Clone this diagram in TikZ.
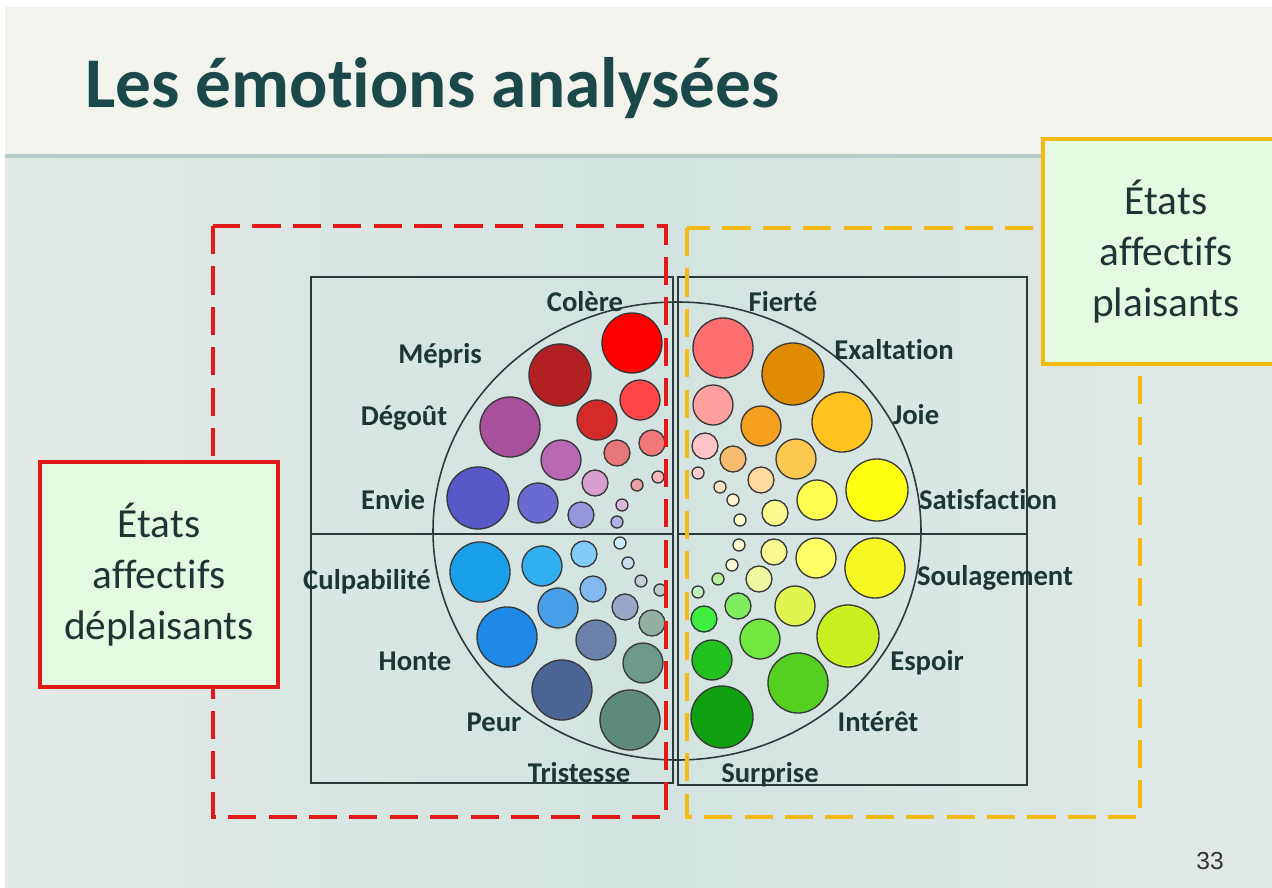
\documentclass[tikz,border=0pt]{standalone}
\usepackage{fontspec}
\setmainfont{Carlito}[Ligatures=NoCommon]
\newfontfamily\numfont{Liberation Sans}
\usepackage{xcolor}
\usepackage{tikz}
\definecolor{VertTitre}{RGB}{27,72,72}
\definecolor{EncreLabel}{RGB}{28,54,54}
\definecolor{RougeCadre}{RGB}{225,25,25}
\definecolor{JauneCadre}{RGB}{245,185,20}
\definecolor{MentheBoite}{RGB}{228,249,226}
\definecolor{FondHaut}{RGB}{243,243,237}
\definecolor{FondBas}{RGB}{210,227,224}
\definecolor{FondClair}{RGB}{226,234,230}
\definecolor{OmbreBandeau}{RGB}{180,202,198}
\definecolor{TraitGrille}{RGB}{45,58,58}
\definecolor{TraitBulle}{RGB}{55,55,55}

\begin{document}
\begin{tikzpicture}[x=0.02cm,y=-0.02cm,
  emo/.style={font=\bfseries\fontsize{16.3}{19}\selectfont,text=EncreLabel,inner sep=0pt},
  bulle/.style={draw=TraitBulle,line width=0.75pt},
  cadre/.style={line width=2.4pt,dash pattern=on 16pt off 7pt},
  boite/.style={line width=1.8pt,fill=MentheBoite,text=EncreLabel,align=center,
    font=\fontsize{23.5}{29}\selectfont,minimum height=4.5cm}]
  \useasboundingbox (0,0) rectangle (1272,888);
  \fill[white] (0,0) rectangle (1272,888);
  \fill[FondHaut] (5,7) rectangle (1272,155);
  \shade[left color=FondClair,right color=FondBas] (5,155) rectangle (640,888);
  \shade[left color=FondBas,right color=FondClair] (640,155) rectangle (1272,888);
  \draw[line width=2pt,OmbreBandeau] (5,156) -- (1272,156);
  \node[anchor=base west,inner sep=0pt,font=\bfseries\fontsize{40.6}{48}\selectfont,text=VertTitre] (titre) at (85,108) {Les émotions analysées};

  \draw[TraitGrille,line width=0.9pt] (311,277) rectangle (673,783);
  \draw[TraitGrille,line width=0.9pt] (678,277) rectangle (1027,785);
  \draw[TraitGrille,line width=0.9pt] (311,534) -- (673,534) (678,534) -- (1027,534);
  \draw[TraitGrille,line width=0.9pt] (677,531) ellipse [x radius=244,y radius=229];

  \foreach \cx/\cy/\r/\teinte in {
    632/343/30/FF0000, 640/400/20/FF4545, 652/443/13/F07878, 658/477/6/F5B8B8,
    560/375/31/B22024, 597/420/20/D42A2A, 617/453/13/E87878, 637/485/6/E8A0A0,
    510/427/30/A8509C, 561/460/20/B868B0, 595/483/13/D8A0D0, 622/505/6/DAB8DA,
    478/498/31/5858C8, 538/503/20/6A6AD0, 581/515/13/9696DC, 617/522/6/B0B0E4,
    480/572/30/1AA0E8, 542/566/20/30B0F0, 584/554/13/80CCF5, 620/543/6/C8EAF8,
    507/637/30/1E88E8, 558/608/20/4AA0E8, 593/589/13/80B8F0, 628/563/6/C8DCF0,
    562/690/30/4A6494, 596/640/20/6A82AA, 625/607/13/98A8C8, 641/581/6/C4CCD8,
    630/720/30/5E8A7C, 643/663/20/6E9888, 652/623/13/90B0A2, 660/590/6/B8CCC4,
    723/348/30/FF6E6E, 713/405/20/FFA0A0, 705/446/13/FFC4C8, 698/473/6/F9CCCC,
    793/374/31/E08C00, 761/426/20/F5A01E, 733/459/13/F8BC70, 720/487/6/FCE4C0,
    842/422/30/FFC21E, 796/459/20/FFC850, 761/480/13/FDDA9C, 733/500/6/FFF2CC,
    877/490/31/FFFF10, 817/500/20/FFFF50, 775/513/13/F9F98E, 740/520/6/FCFCC8,
    875/568/30/F6F620, 816/558/20/FFFF66, 774/552/13/F8F890, 739/545/6/FAFAD0,
    848/636/31/C8F020, 795/606/20/E0F550, 759/579/13/EEF8A0, 732/565/6/F8F8D8,
    798/683/30/55D020, 760/639/20/70E840, 738/606/13/7EEE60, 718/579/6/B8F098,
    722/717/31/10A010, 712/660/20/20C020, 704/619/13/40EE40, 698/592/6/C0F0C0}{
    \definecolor{teinte}{HTML}{\teinte}
    \draw[bulle,fill=teinte] (\cx,\cy) circle (\r);
  }

  \node[emo] (colere) at (585,302) {Colère};
  \node[emo] (mepris) at (440,356) {Mépris};
  \node[emo] (degout) at (404,418) {Dégoût};
  \node[emo] (envie) at (393,500) {Envie};
  \node[emo] (culpabilite) at (367,582) {Culpabilité};
  \node[emo] (honte) at (415,661) {Honte};
  \node[emo] (peur) at (494,722) {Peur};
  \node[emo] (tristesse) at (579,773) {Tristesse};
  \node[emo] (fierte) at (783,302) {Fierté};
  \node[emo] (exaltation) at (894,350) {Exaltation};
  \node[emo] (joie) at (916,415) {Joie};
  \node[emo] (satisfaction) at (988,500) {Satisfaction};
  \node[emo] (soulagement) at (995,578) {Soulagement};
  \node[emo] (espoir) at (927,663) {Espoir};
  \node[emo] (interet) at (878,722) {Intérêt};
  \node[emo] (surprise) at (770,775) {Surprise};

  \draw[cadre,RougeCadre] (213,226) rectangle (666,817);
  \draw[cadre,JauneCadre] (687,228) rectangle (1140,817);

  \node[boite,draw=RougeCadre,minimum width=4.76cm] (deplaisants) at (159,574.5) {États\\affectifs\\déplaisants};
  \node[boite,draw=JauneCadre,minimum width=4.92cm] (plaisants) at (1166,251.5) {États\\affectifs\\plaisants};

  \node[font=\numfont\fontsize{14}{16}\selectfont,text=black!80] (page) at (1210,861) {33};
\end{tikzpicture}
\end{document}
